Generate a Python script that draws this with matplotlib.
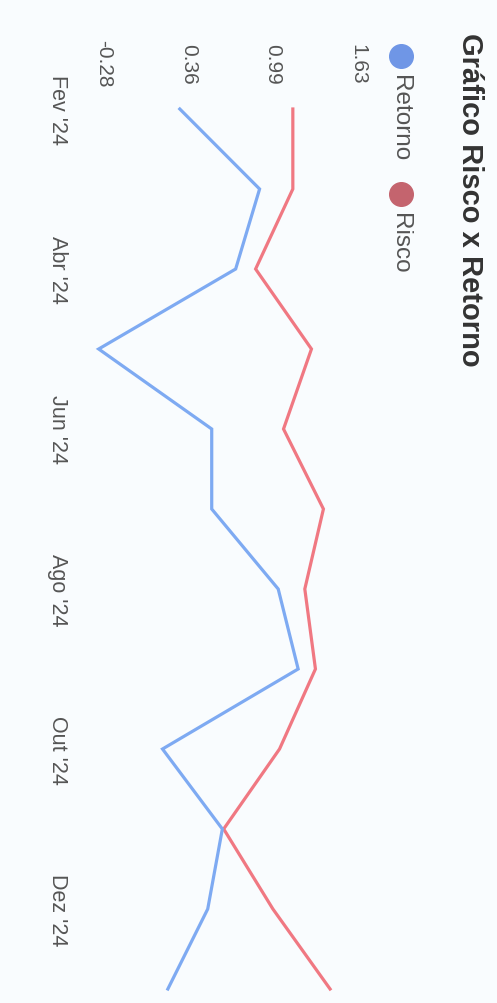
import matplotlib
matplotlib.use("Agg")
import matplotlib.pyplot as plt
from matplotlib.lines import Line2D
import matplotlib.transforms as mtransforms

# ---- data ----
months = ["Fev '24", "Mar '24", "Abr '24", "Mai '24", "Jun '24", "Jul '24",
          "Ago '24", "Set '24", "Out '24", "Nov '24", "Dez '24", "Jan '25"]
retorno = [0.29, 0.89, 0.71, -0.32, 0.53, 0.53, 1.03, 1.18, 0.16, 0.61, 0.50, 0.20]
risco = [1.14, 1.14, 0.86, 1.28, 1.07, 1.37, 1.23, 1.31, 1.04, 0.62, 0.99, 1.42]
value_ticks = [-0.28, 0.36, 0.99, 1.63]
value_tick_labels = ["-0.28", "0.36", "0.99", "1.63"]
month_tick_idx = [0, 2, 4, 6, 8, 10]
series_names = ["Retorno", "Risco"]

W, H = 497, 1004
bg = "#f9fcfe"
fig = plt.figure(figsize=(W / 100, H / 100), dpi=100, facecolor=bg)
plt.rcParams['font.family'] = ['Liberation Sans', 'DejaVu Sans']

def fx(px):
    return px / W

def fy(py):
    return 1 - py / H

ax = fig.add_axes([fx(104), fy(990), fx(358) - fx(104), fy(110) - fy(990)])
ax.set_facecolor("none")
idx = list(range(len(months)))
ax.plot(risco, idx, color="#f07882", lw=2.3, clip_on=False, solid_joinstyle="miter")
ax.plot(retorno, idx, color="#7eaaf2", lw=2.3, clip_on=False, solid_joinstyle="miter")
ax.set_xlim(value_ticks[0], value_ticks[-1])
ax.set_ylim(len(months) - 1, 0)
ax.axis("off")

# value tick labels (top, rotated)
tr_val = mtransforms.blended_transform_factory(ax.transData, fig.transFigure)
for v, lab in zip(value_ticks, value_tick_labels):
    fig.text(v, fy(64), lab, transform=tr_val, rotation=-90, ha="center", va="center",
             fontsize=15, color="#555555")

# month labels (left, rotated)
tr_mon = mtransforms.blended_transform_factory(fig.transFigure, ax.transData)
for i in month_tick_idx:
    fig.text(fx(57), i, months[i], transform=tr_mon, rotation=-90, ha="center", va="center",
             fontsize=15.5, color="#555555")

# title
fig.text(fx(470), fy(33), "Gráfico Risco x Retorno", rotation=-90, ha="center", va="top",
         fontsize=21, fontweight="bold", color="#333333")

# legend
leg = [(series_names[0], "#6f96e6", 57, 75), (series_names[1], "#c4646e", 195, 213)]
for name, col, cy, ty in leg:
    fig.add_artist(Line2D([fx(401)], [fy(cy)], marker="o", markersize=17, color=col,
                          linestyle="none", transform=fig.transFigure))
    fig.text(fx(400), fy(ty), name, rotation=-90, ha="center", va="top",
             fontsize=17.5, color="#555555")

fig.savefig("out.png", dpi=100, facecolor=bg)
